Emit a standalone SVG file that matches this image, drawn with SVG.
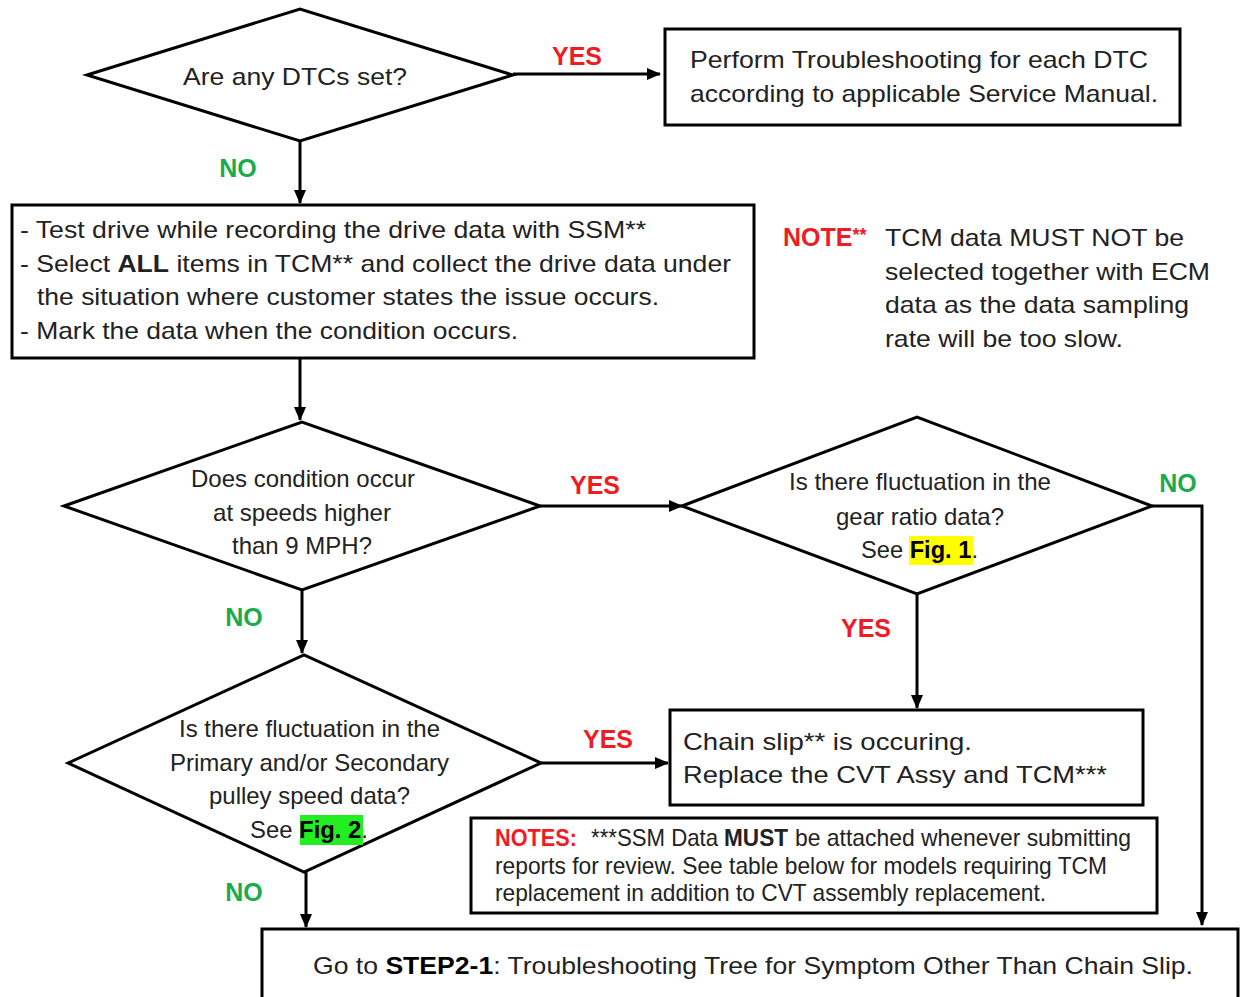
<svg xmlns="http://www.w3.org/2000/svg" width="1241" height="997" viewBox="0 0 1241 997">
<style>
.shape{fill:#fff;stroke:#000;stroke-width:3}
.t{font-family:"Liberation Sans",Arial,sans-serif;font-size:24px;fill:#222}
.c{text-anchor:middle}
.b{font-weight:bold}
.yes{font-family:"Liberation Sans",Arial,sans-serif;font-size:25px;font-weight:bold;fill:#ee1c25;text-anchor:middle}
.no{font-family:"Liberation Sans",Arial,sans-serif;font-size:25px;font-weight:bold;fill:#1aab4c;text-anchor:middle}
.red{fill:#ee1c25;font-weight:bold}
.con{fill:none;stroke:#000;stroke-width:3}
</style>
<defs>
<marker id="arr" markerUnits="userSpaceOnUse" markerWidth="14" markerHeight="14" viewBox="0 0 14 14" refX="13" refY="7" orient="auto">
<path d="M0,1 L14,7 L0,13 Z" fill="#000"/>
</marker>
</defs>
<rect width="1241" height="997" fill="#fff"/>

<g id="connectors">
<line class="con" x1="513" y1="74" x2="660" y2="74" marker-end="url(#arr)"/>
<line class="con" x1="300" y1="141" x2="300" y2="203" marker-end="url(#arr)"/>
<line class="con" x1="300" y1="358" x2="300" y2="420" marker-end="url(#arr)"/>
<line class="con" x1="540" y1="506" x2="682" y2="506" marker-end="url(#arr)"/>
<polyline class="con" points="1152,506 1202,506 1202,925" marker-end="url(#arr)"/>
<line class="con" x1="917" y1="594" x2="917" y2="708" marker-end="url(#arr)"/>
<line class="con" x1="302" y1="590" x2="302" y2="653" marker-end="url(#arr)"/>
<line class="con" x1="541" y1="763" x2="668" y2="763" marker-end="url(#arr)"/>
<line class="con" x1="306" y1="872" x2="306" y2="927" marker-end="url(#arr)"/>
</g>

<g id="labels">
<text class="yes" x="577" y="65">YES</text>
<text class="no" x="238" y="177">NO</text>
<text class="yes" x="595" y="494">YES</text>
<text class="no" x="1178" y="492">NO</text>
<text class="yes" x="866" y="637">YES</text>
<text class="no" x="244" y="626">NO</text>
<text class="yes" x="608" y="748">YES</text>
<text class="no" x="244" y="901">NO</text>
</g>

<g id="dtc-decision">
<polygon class="shape" points="87,75 300,9 513,75 300,141"/>
<text class="t" x="183" y="85" textLength="224" lengthAdjust="spacingAndGlyphs">Are any DTCs set?</text>
</g>

<g id="perform-troubleshooting">
<rect class="shape" x="665" y="29" width="515" height="96"/>
<text class="t" x="690" y="68" textLength="458" lengthAdjust="spacingAndGlyphs">Perform Troubleshooting for each DTC</text>
<text class="t" x="690" y="102" textLength="468" lengthAdjust="spacingAndGlyphs">according to applicable Service Manual.</text>
</g>

<g id="test-drive">
<rect class="shape" x="12" y="205" width="742" height="153"/>
<text class="t" x="20" y="238" textLength="626" lengthAdjust="spacingAndGlyphs">- Test drive while recording the drive data with SSM**</text>
<text class="t" x="20" y="272" textLength="711" lengthAdjust="spacingAndGlyphs">- Select <tspan class="b">ALL</tspan> items in TCM** and collect the drive data under</text>
<text class="t" x="37" y="305" textLength="622" lengthAdjust="spacingAndGlyphs">the situation where customer states the issue occurs.</text>
<text class="t" x="20" y="339" textLength="498" lengthAdjust="spacingAndGlyphs">- Mark the data when the condition occurs.</text>
</g>

<g id="note-tcm">
<text class="t" x="783" y="246"><tspan class="red" font-size="25">NOTE</tspan><tspan class="red" font-size="18" dy="-5">**</tspan></text>
<text class="t" x="885" y="246" textLength="299" lengthAdjust="spacingAndGlyphs">TCM data MUST NOT be</text>
<text class="t" x="885" y="280" textLength="325" lengthAdjust="spacingAndGlyphs">selected together with ECM</text>
<text class="t" x="885" y="313" textLength="304" lengthAdjust="spacingAndGlyphs">data as the data sampling</text>
<text class="t" x="885" y="347" textLength="238" lengthAdjust="spacingAndGlyphs">rate will be too slow.</text>
</g>

<g id="speed-decision">
<polygon class="shape" points="64,506 302,422 540,506 302,590"/>
<text class="t" x="191" y="487" textLength="224" lengthAdjust="spacingAndGlyphs">Does condition occur</text>
<text class="t" x="213" y="521" textLength="178" lengthAdjust="spacingAndGlyphs">at speeds higher</text>
<text class="t" x="232" y="554" textLength="140" lengthAdjust="spacingAndGlyphs">than 9 MPH?</text>
</g>

<g id="gear-ratio-decision">
<polygon class="shape" points="682,506 917,417 1152,506 917,594"/>
<text class="t" x="789" y="490" textLength="262" lengthAdjust="spacingAndGlyphs">Is there fluctuation in the</text>
<text class="t" x="836" y="525" textLength="168" lengthAdjust="spacingAndGlyphs">gear ratio data?</text>
<rect x="909" y="536" width="64" height="29" fill="#ffff00"/>
<text class="t" x="861" y="558" textLength="117" lengthAdjust="spacingAndGlyphs">See <tspan class="b" fill="#000">Fig. 1</tspan>.</text>
</g>

<g id="pulley-decision">
<polygon class="shape" points="68,763 304,655 541,763 304,872"/>
<text class="t" x="179" y="737" textLength="261" lengthAdjust="spacingAndGlyphs">Is there fluctuation in the</text>
<text class="t" x="170" y="771" textLength="279" lengthAdjust="spacingAndGlyphs">Primary and/or Secondary</text>
<text class="t" x="209" y="804" textLength="201" lengthAdjust="spacingAndGlyphs">pulley speed data?</text>
<rect x="300" y="815" width="63" height="30" fill="#22ee22"/>
<text class="t" x="250" y="838" textLength="118" lengthAdjust="spacingAndGlyphs">See <tspan class="b" fill="#000">Fig. 2</tspan>.</text>
</g>

<g id="chain-slip">
<rect class="shape" x="670" y="710" width="473" height="95"/>
<text class="t" x="683" y="750" font-size="26" textLength="289" lengthAdjust="spacingAndGlyphs">Chain slip** is occuring.</text>
<text class="t" x="683" y="783" font-size="26" textLength="424" lengthAdjust="spacingAndGlyphs">Replace the CVT Assy and TCM***</text>
</g>

<g id="notes">
<rect class="shape" x="471" y="818" width="686" height="95"/>
<text class="t red" x="495" y="846" font-size="21" textLength="82" lengthAdjust="spacingAndGlyphs">NOTES:</text>
<text class="t" x="591" y="846" font-size="21" textLength="127" lengthAdjust="spacingAndGlyphs">***SSM Data</text>
<text class="t b" x="724" y="846" font-size="21" fill="#000" textLength="64" lengthAdjust="spacingAndGlyphs">MUST</text>
<text class="t" x="795" y="846" font-size="21" textLength="336" lengthAdjust="spacingAndGlyphs">be attached whenever submitting</text>
<text class="t" x="495" y="874" font-size="21" textLength="612" lengthAdjust="spacingAndGlyphs">reports for review. See table below for models requiring TCM</text>
<text class="t" x="495" y="901" font-size="21" textLength="551" lengthAdjust="spacingAndGlyphs">replacement in addition to CVT assembly replacement.</text>
</g>

<g id="step2-1">
<rect class="shape" x="262" y="929" width="976" height="90"/>
<text class="t" x="313" y="974" textLength="880" lengthAdjust="spacingAndGlyphs">Go to <tspan class="b" fill="#000">STEP2-1</tspan>: Troubleshooting Tree for Symptom Other Than Chain Slip.</text>
</g>
</svg>
